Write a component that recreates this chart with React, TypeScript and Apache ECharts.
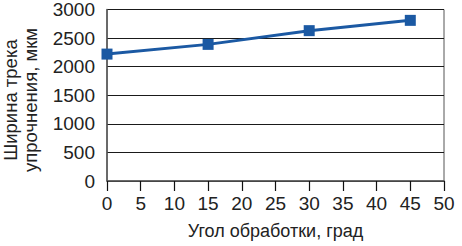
import React, { useEffect, useRef } from "react";
import * as echarts from "echarts";

const angles = [0, 15, 30, 45];
const widths = [2220, 2390, 2630, 2810];
const xTitle = "Угол обработки, град";
const yTitle = "Ширина трека\nупрочнения, мкм";

export default function App() {
  const ref = useRef<HTMLDivElement>(null);
  useEffect(() => {
    document.body.style.margin = "0";
    const chart = echarts.init(ref.current!, null, { renderer: "svg" });
    const font = "'Liberation Sans', Arial, sans-serif";
    chart.setOption({
      animation: false,
      backgroundColor: "#ffffff",
      grid: {
        left: 107,
        right: 18,
        top: 6,
        bottom: 65,
        show: true,
        borderColor: "#555",
        borderWidth: 1,
        containLabel: false,
      },
      xAxis: {
        type: "value",
        min: 0,
        max: 50,
        interval: 5,
        name: xTitle,
        nameLocation: "middle",
        nameGap: 41,
        nameTextStyle: { fontFamily: font, fontSize: 18, color: "#222" },
        axisLine: { show: true, lineStyle: { color: "#555", width: 1.5 } },
        axisTick: { show: true, inside: false, length: 10, lineStyle: { color: "#111", width: 1.2 } },
        axisLabel: { fontFamily: font, fontSize: 19, color: "#222", margin: 13, formatter: (v: number) => String(v) },
        splitLine: { show: false },
      },
      yAxis: {
        type: "value",
        min: 0,
        max: 3000,
        interval: 500,
        axisLine: { show: true, lineStyle: { color: "#555", width: 1.5 } },
        axisTick: { show: false },
        axisLabel: { fontFamily: font, fontSize: 19, color: "#222", margin: 12, formatter: (v: number) => String(v) },
        splitLine: { show: true, lineStyle: { color: "#1a1a1a", width: 1.2 } },
      },
      graphic: [
        {
          type: "text",
          x: 20,
          y: 100,
          rotation: Math.PI / 2,
          style: {
            text: yTitle,
            fontFamily: font,
            fontSize: 18.5,
            lineHeight: 20,
            fill: "#222",
            align: "center",
            verticalAlign: "middle",
          },
        },
      ],
      series: [
        {
          type: "line",
          data: angles.map((a, i) => [a, widths[i]]),
          symbol: "rect",
          symbolSize: 11,
          lineStyle: { color: "#1b59a3", width: 3 },
          itemStyle: { color: "#1b59a3" },
        },
      ],
    });
    return () => chart.dispose();
  }, []);
  return <div ref={ref} style={{ width: 462, height: 246 }} />;
}
